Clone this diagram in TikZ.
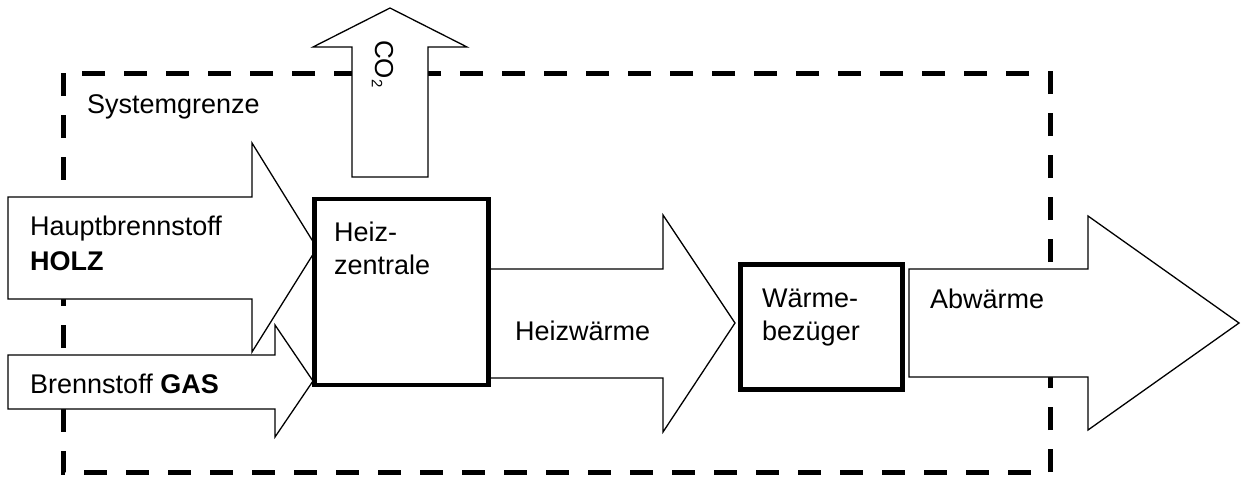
\documentclass[tikz,border=0pt]{standalone}
\usepackage{fontspec}
\setmainfont{Liberation Sans}
\begin{document}
\begin{tikzpicture}[x=1pt,y=-1pt,
  flow/.style={draw=black, fill=white, line width=1.3pt, line join=miter},
  unitbox/.style={draw=black, fill=white, line width=4.5pt, inner sep=0pt},
  lbl/.style={anchor=base west, inner sep=0pt, font=\fontsize{27}{33}\selectfont},
  border/.style={line width=5pt, dash pattern=on 23pt off 19pt}]
\useasboundingbox (0,0) rectangle (1241,479);
% system boundary
\draw[border] (63,73) rectangle (1050,472);
% CO2 arrow
\draw[flow] (352,177) -- (352,47) -- (313,47) -- (390,8) -- (467,47) -- (428,47) -- (428,177) -- cycle;
% Hauptbrennstoff arrow
\draw[flow] (8,197) -- (252,197) -- (252,143) -- (317,248) -- (252,352) -- (252,299) -- (8,299) -- cycle;
% Gas arrow
\draw[flow] (8,355) -- (275,355) -- (275,325) -- (313,381) -- (275,437) -- (275,409) -- (8,409) -- cycle;
% Heizwaerme arrow
\draw[flow] (488,269) -- (663,269) -- (663,215) -- (735,323) -- (663,432) -- (663,378) -- (488,378) -- cycle;
% Abwaerme arrow
\draw[flow] (909,269) -- (1088,269) -- (1088,216) -- (1239,323) -- (1088,430) -- (1088,377) -- (909,377) -- cycle;
% boxes
\node[unitbox, minimum width=174pt, minimum height=186pt] (hz) at (401.5,292) {};
\node[unitbox, minimum width=162pt, minimum height=125pt] (wb) at (821.5,327) {};
% labels
\node[lbl] (sg) at (87,113) {Systemgrenze};
\node[lbl] (hb1) at (30,235) {Hauptbrennstoff};
\node[lbl] (hb2) at (30,270) {\textbf{HOLZ}};
\node[lbl] (gas) at (30,393) {Brennstoff \textbf{GAS}};
\node[lbl] (hz1) at (334,241) {Heiz-};
\node[lbl] (hz2) at (334,274) {zentrale};
\node[lbl] (hw) at (515,340) {Heizwärme};
\node[lbl] (wb1) at (762,307) {Wärme-};
\node[lbl] (wb2) at (762,340) {bezüger};
\node[lbl] (aw) at (930,308) {Abwärme};
\node[lbl, rotate=-90, font=\fontsize{26}{30}\selectfont] (co2) at (375,40) {CO\raisebox{-0.12em}{\fontsize{15}{15}\selectfont 2}};
\end{tikzpicture}
\end{document}
